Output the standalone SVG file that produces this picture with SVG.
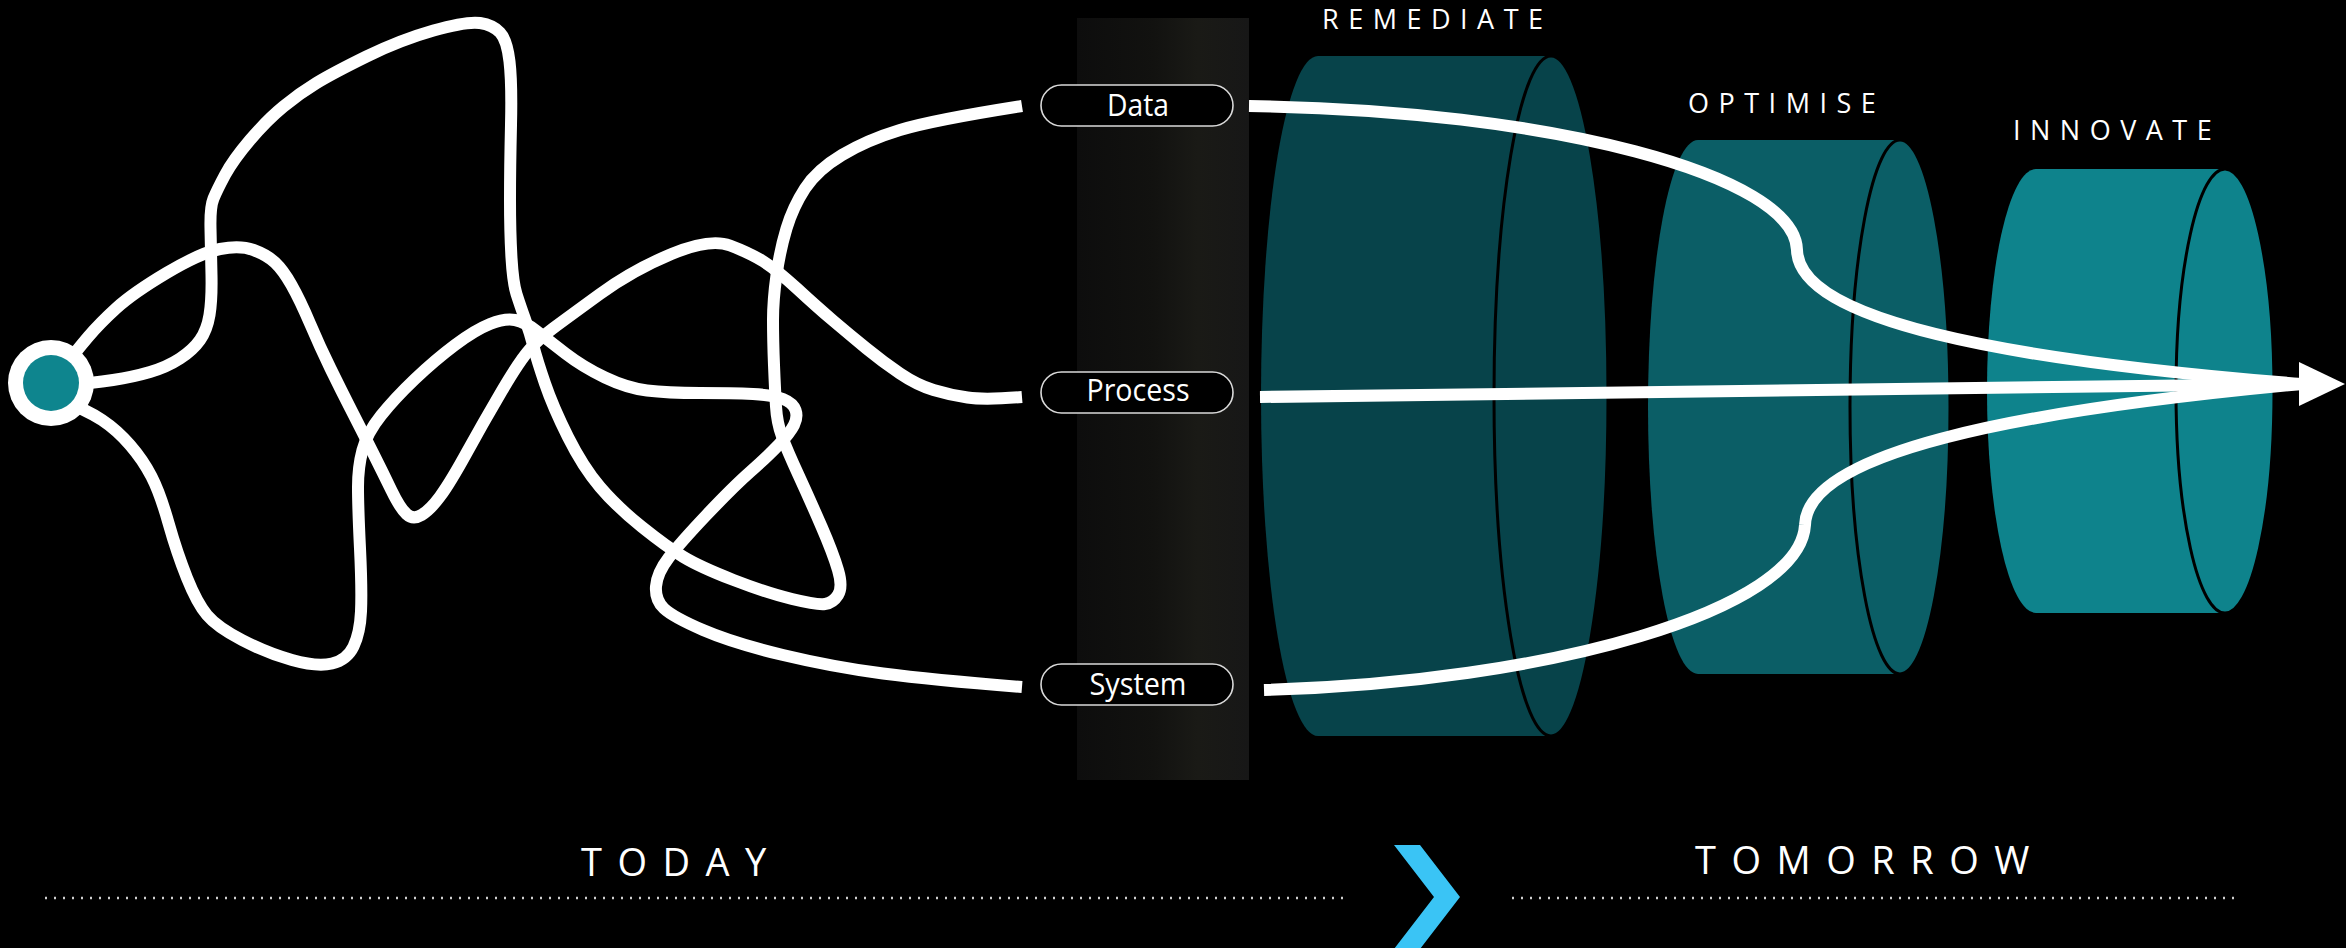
<svg xmlns="http://www.w3.org/2000/svg" width="2346" height="948" viewBox="0 0 2346 948">
  <defs>
    <linearGradient id="bandGrad" x1="0" y1="0" x2="1" y2="0">
      <stop offset="0" stop-color="#0d0d0d"/>
      <stop offset="0.45" stop-color="#121210"/>
      <stop offset="0.7" stop-color="#1a1a16"/>
      <stop offset="1" stop-color="#171717"/>
    </linearGradient>
    <style>
      .wire { fill: none; stroke: #ffffff; stroke-width: 12; stroke-linecap: butt; stroke-linejoin: round; }
      .pill { fill: #000000; stroke: #d9d9d9; stroke-width: 1.6; }
      .pill-text { font-family: "Open Sans", "Liberation Sans", sans-serif; font-size: 31px; fill: #ffffff; text-anchor: middle; }
      .stage { font-family: "Open Sans", "Liberation Sans", sans-serif; font-size: 27px; fill: #ffffff; letter-spacing: 9.5px; }
      .era { font-family: "Open Sans", "Liberation Sans", sans-serif; font-size: 38px; fill: #ffffff; }
      .rim { stroke: #000000; stroke-width: 3; }
      .dots { fill: none; stroke: #d0d0d0; stroke-width: 2.5; stroke-dasharray: 2 7; }
    </style>
  </defs>

  <rect width="2346" height="948" fill="#000000"/>

  <!-- shaded column behind the labels -->
  <rect id="band" x="1077" y="18" width="172" height="762" fill="url(#bandGrad)"/>

  <!-- stage cylinders -->
  <g id="remediate">
    <path d="M1318,56 L1551,56 L1551,736 L1318,736 A57,340 0 0 1 1318,56 Z" fill="#07434a"/>
    <ellipse cx="1551" cy="396" rx="57" ry="340" fill="#07434a" class="rim"/>
    <text class="stage" x="1322" y="29">REMEDIATE</text>
  </g>
  <g id="optimise">
    <path d="M1698,140 L1900,140 L1900,674 L1698,674 A50,267 0 0 1 1698,140 Z" fill="#0b5e66"/>
    <ellipse cx="1900" cy="407" rx="50" ry="267" fill="#0b5e66" class="rim"/>
    <text class="stage" x="1688" y="113">OPTIMISE</text>
  </g>
  <g id="innovate">
    <path d="M2036,169 L2225,169 L2225,613 L2036,613 A49,222 0 0 1 2036,169 Z" fill="#0e838c"/>
    <ellipse cx="2225" cy="391" rx="49" ry="222" fill="#0e838c" class="rim"/>
    <text class="stage" x="2013" y="140">INNOVATE</text>
  </g>

  <!-- connectors -->
  <g id="connectors">
    <!-- tangled paths from the start node to the labels -->
    <path class="wire" d="M60,386 Q93,383 113,380 Q133,377 150,372 Q167,367 180,358.5 Q193,350 200,340 Q207,330 209.5,315 Q212,300 211.5,275 Q211,250 210.5,228.5 Q210,207 213.5,198.5 Q217,190 225,175 Q233,160 250,140 Q267,120 283.5,106.5 Q300,93 316.5,83 Q333,73 366.5,56.5 Q400,40 433.5,30.5 Q467,21 480,23 Q493,25 500,32.5 Q507,40 509.5,61.5 Q512,83 511,125 Q510,167 510,200 Q510,233 511.5,258 Q513,283 516.5,294 Q520,305 525,319 Q530,333 533.5,346.5 Q537,360 545,383.5 Q553,407 568,437 Q583,467 600,487 Q617,507 642,527 Q667,547 683.5,557 Q700,567 733.5,580 Q767,593 792,599 Q817,605 825,604 Q833,603 838,595 Q843,587 838,570 Q833,553 821.5,526.5 Q810,500 798.5,475 Q787,450 782,436.5 Q777,423 776,406.5 Q775,390 774,365 Q773,340 773,320 Q773,300 776.5,275 Q780,250 786.5,228.5 Q793,207 805,188.5 Q817,170 842,155 Q867,140 900,130 Q933,120 1022,106"/>
    <path class="wire" d="M60,372 Q77,350 88.5,336.5 Q100,323 116.5,308 Q133,293 166.5,273 Q200,253 220,249 Q240,245 253.5,250 Q267,255 275,262.5 Q283,270 291.5,285 Q300,300 310,323.5 Q320,347 330.5,368.5 Q341,390 352,411.5 Q363,433 373,453 Q383,473 391.5,490.5 Q400,508 406.5,514 Q413,520 421.5,515 Q430,510 440,496.5 Q450,483 466.5,453 Q483,423 501.5,391.5 Q520,360 530,349 Q540,338 553.5,328 Q567,318 600,294 Q633,270 671.5,254 Q710,238 730,245.5 Q750,253 763.5,261.5 Q777,270 797,288.5 Q817,307 833.5,321 Q850,335 866.5,348.5 Q883,362 900,373.5 Q917,385 933.5,390 Q950,395 967.5,397.5 Q985,400 1022,397"/>
    <path class="wire" d="M60,400 Q87,410 102,420 Q117,430 130,445 Q143,460 151.5,476.5 Q160,493 168.5,523 Q177,553 187,578 Q197,603 207,615 Q217,627 242,640 Q267,653 292,660 Q317,667 332,663.5 Q347,660 353.5,646.5 Q360,633 361,611.5 Q362,590 360,548.5 Q358,507 358,487 Q358,467 362.5,450 Q367,433 381,415.5 Q395,398 415,379 Q435,360 455,345 Q475,330 490,324 Q505,318 515,320 Q525,322 536.5,331 Q548,340 565.5,353.5 Q583,367 605,377.5 Q627,388 647,390.5 Q667,393 700,393 Q733,393 753,394 Q773,395 783,399 Q793,403 795.5,410 Q798,417 794,425 Q790,433 778.5,445 Q767,457 750,472 Q733,487 706.5,515 Q680,543 668.5,558 Q657,573 656,586.5 Q655,600 664,608.5 Q673,617 703,630 Q733,643 783,655 Q833,667 883,673.5 Q933,680 1022,687"/>

    <!-- converging paths through the stages -->
    <path class="wire" d="M1249,106 C1550,110 1795,175 1797,250 C1799,320 2000,360 2302,384"/>
    <path class="wire" d="M1260,397 L2302,384"/>
    <path class="wire" d="M1264,690 C1550,682 1800,610 1805,525 C1807,455 2000,412 2302,384"/>
    <polygon points="2299,362 2345,384 2299,406" fill="#ffffff"/>
  </g>

  <!-- start node -->
  <g id="start">
    <circle cx="51" cy="383" r="43" fill="#ffffff"/>
    <circle cx="51" cy="383" r="28" fill="#0e858e"/>
  </g>

  <!-- labels -->
  <g id="data">
    <rect class="pill" x="1041" y="85" width="192" height="41" rx="20.5"/>
    <text class="pill-text" x="1138" y="116" textLength="62" lengthAdjust="spacingAndGlyphs">Data</text>
  </g>
  <g id="process">
    <rect class="pill" x="1041" y="372" width="192" height="41" rx="20.5"/>
    <text class="pill-text" x="1138" y="401" textLength="103" lengthAdjust="spacingAndGlyphs">Process</text>
  </g>
  <g id="system">
    <rect class="pill" x="1041" y="664" width="192" height="41" rx="20.5"/>
    <text class="pill-text" x="1138" y="695" textLength="97" lengthAdjust="spacingAndGlyphs">System</text>
  </g>

  <!-- timeline -->
  <g id="today">
    <text class="era" x="581" y="876" letter-spacing="15.5">TODAY</text>
    <line class="dots" x1="45" y1="898" x2="1347" y2="898"/>
  </g>
  <g id="chevron">
    <polygon points="1394,845 1420,845 1460,897 1420,949 1394,949 1434,897" fill="#3ac4f5"/>
  </g>
  <g id="tomorrow">
    <text class="era" x="1695" y="874" letter-spacing="15.5">TOMORROW</text>
    <line class="dots" x1="1512" y1="898" x2="2235" y2="898"/>
  </g>
</svg>
